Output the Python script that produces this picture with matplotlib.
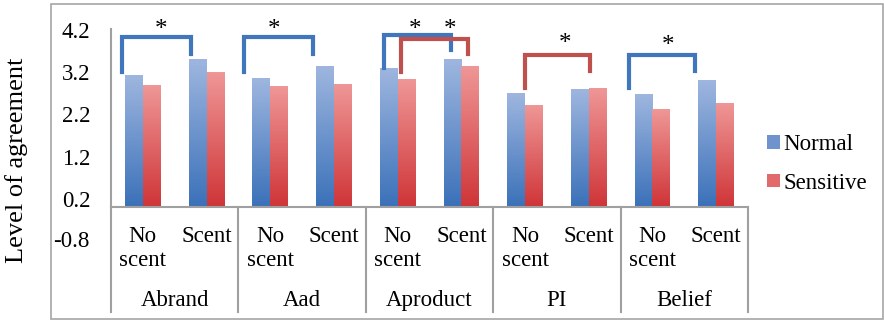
import numpy as np
import matplotlib
matplotlib.use('Agg')
import matplotlib.pyplot as plt
from matplotlib.colors import LinearSegmentedColormap
from matplotlib.patches import Rectangle, Patch

plt.rcParams['font.family'] = ['Liberation Serif', 'DejaVu Serif']

groups = ['Abrand', 'Aad', 'Aproduct', 'PI', 'Belief']
conditions = ['No\nscent', 'Scent']
series = ['Normal', 'Sensitive']
normal = [3.11, 3.51, 3.05, 3.33, 3.28, 3.51, 2.69, 2.78, 2.67, 3.01]
sensitive = [2.88, 3.18, 2.85, 2.91, 3.03, 3.33, 2.40, 2.82, 2.31, 2.46]
yticks = [0.2, 1.2, 2.2, 3.2, 4.2]

# significance brackets: left x, right x, top, left leg end, right leg end, colour
brackets = [
    (-0.33, 0.76, 4.03, 3.21, 3.63, 'blue'),
    (1.59, 2.67, 4.03, 3.21, 3.63, 'blue'),
    (3.79, 4.84, 4.08, 3.30, 3.73, 'blue'),
    (4.05, 5.10, 3.99, 3.21, 3.63, 'red'),
    (6.00, 7.02, 3.61, 2.83, 3.23, 'red'),
    (7.63, 8.67, 3.61, 2.83, 3.23, 'blue'),
]
stars = [(0.28, 4.19), (2.06, 4.19), (4.27, 4.19), (4.82, 4.19), (6.63, 3.86), (8.24, 3.82)]

blue_cm = LinearSegmentedColormap.from_list('b', ['#3B71B9', '#9EB6DF'])
red_cm = LinearSegmentedColormap.from_list('r', ['#CF3538', '#EF9696'])
line_col = {'blue': '#3F76BC', 'red': '#C0504D'}
fs = 16.5

fig = plt.figure(figsize=(8.84, 3.2), dpi=100)
ax = fig.add_axes([111/884, 1-207/320, 637/884, 178/320])

ymin, ymax = 0.01, 4.22
w = 0.28
x = np.arange(len(normal))
grad = np.linspace(0, 1, 100).reshape(-1, 1)
for vals, cm, off in [(normal, blue_cm, -w/2), (sensitive, red_cm, w/2)]:
    for xi, v in zip(x, vals):
        ax.imshow(grad, cmap=cm, origin='lower', aspect='auto',
                  extent=[xi+off-w/2, xi+off+w/2, ymin, v], zorder=2)

ax.set_xlim(-0.5, len(normal)-0.5)
ax.set_ylim(ymin, ymax)
ax.set_yticks(yticks)
ax.set_yticklabels([str(t) for t in yticks], fontsize=fs)
ax.tick_params(axis='y', length=0, pad=15)
ax.set_xticks([])
for s in ['top', 'right']:
    ax.spines[s].set_visible(False)
for s in ['left', 'bottom']:
    ax.spines[s].set_color('#A0A0A0')
    ax.spines[s].set_linewidth(1.5)

# -0.8 tick label, which falls in the category area
ax.text(-0.034, -0.8, '-0.8', transform=ax.get_yaxis_transform(), fontsize=fs,
        ha='right', va='center', clip_on=False)

# category labels
tr = ax.get_xaxis_transform()
for i in range(len(normal)):
    ax.text(x[i], -0.105, conditions[i % 2], transform=tr, ha='center', va='top',
            fontsize=fs, linespacing=1.2, clip_on=False)
for g, name in enumerate(groups):
    ax.text(2*g+0.5, -0.525, name, transform=tr, ha='center', va='center',
            fontsize=fs, clip_on=False)
for g in range(len(groups)+1):
    ax.plot([2*g-0.5, 2*g-0.5], [0, -0.59], transform=tr, color='#A0A0A0',
            lw=1.5, clip_on=False)

for xl, xr, top, yl, yr, c in brackets:
    ax.plot([xl, xl, xr, xr], [yl, top, top, yr], color=line_col[c], lw=3,
            solid_joinstyle='miter', clip_on=False, zorder=3)
for sx, sy in stars:
    ax.text(sx, sy, '*', ha='center', va='center', fontsize=18, clip_on=False)

ax.set_ylabel('Level of agreement', fontsize=19)
ax.yaxis.set_label_coords(-0.13, 0.26)

handles = [Patch(facecolor='#6E93CD', edgecolor='none'),
           Patch(facecolor='#E06A6C', edgecolor='none')]
fig.legend(handles, series, loc='center left', bbox_to_anchor=(767/884, 1-164/320),
           frameon=False, fontsize=16.5, handlelength=0.55, handleheight=0.55,
           handletextpad=0.15, labelspacing=0.75, borderpad=0, borderaxespad=0)

fig.patches.append(Rectangle((51/884, 1/320), 832/884, 315/320, transform=fig.transFigure,
                             fill=False, edgecolor='#A6A6A6', lw=1.2))

fig.savefig('out.png', dpi=100)
